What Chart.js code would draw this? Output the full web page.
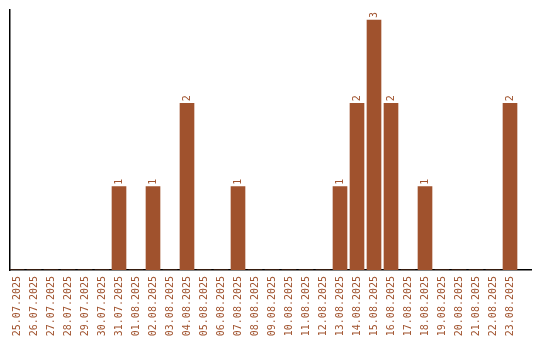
<!DOCTYPE html>
<html lang="en">
<head>
    <meta charset="UTF-8">
    <title>Daily count</title>
    <style>
        html, body { margin: 0; padding: 0; background: #fff; }
        #wrap { width: 540px; height: 340px; }
    </style>
</head>
<body>
    <div id="wrap"><canvas id="myChart" width="540" height="340"></canvas></div>

    <script src="https://cdn.jsdelivr.net/npm/chart.js@4.4.1/dist/chart.umd.min.js"></script>
    <script>
        // Days on the x axis
        var dates = [
            "25.07.2025", "26.07.2025", "27.07.2025", "28.07.2025", "29.07.2025", "30.07.2025",
            "31.07.2025", "01.08.2025", "02.08.2025", "03.08.2025", "04.08.2025", "05.08.2025",
            "06.08.2025", "07.08.2025", "08.08.2025", "09.08.2025", "10.08.2025", "11.08.2025",
            "12.08.2025", "13.08.2025", "14.08.2025", "15.08.2025", "16.08.2025", "17.08.2025",
            "18.08.2025", "19.08.2025", "20.08.2025", "21.08.2025", "22.08.2025", "23.08.2025"
        ];
        // Count per day
        var counts = [
            0, 0, 0, 0, 0, 0,
            1, 0, 1, 0, 2, 0,
            0, 1, 0, 0, 0, 0,
            0, 1, 2, 3, 2, 0,
            1, 0, 0, 0, 0, 2
        ];

        var brown = "#a0522d";

        // Build points for the linear x axis
        var points = [];
        for (var i = 0; i < dates.length; i++) {
            points.push({ x: i, y: counts[i] });
        }

        // Draws the value above each bar, rotated like the tick labels
        var valueLabels = {
            id: "valueLabels",
            afterDatasetsDraw: function (chart) {
                var ctx = chart.ctx;
                var meta = chart.getDatasetMeta(0);
                ctx.save();
                ctx.fillStyle = brown;
                ctx.font = "10px 'DejaVu Sans Mono', monospace";
                ctx.textAlign = "left";
                ctx.textBaseline = "middle";
                meta.data.forEach(function (bar, idx) {
                    var v = counts[idx];
                    if (!v) return;
                    ctx.save();
                    ctx.translate(bar.x, bar.y - 2);
                    ctx.rotate(-Math.PI / 2);
                    ctx.fillText(String(v), 0, 0);
                    ctx.restore();
                });
                ctx.restore();
            }
        };

        new Chart(document.getElementById("myChart"), {
            type: "bar",
            data: {
                datasets: [{
                    data: points,
                    backgroundColor: brown,
                    borderWidth: 0,
                    barThickness: 14
                }]
            },
            options: {
                responsive: false,
                animation: false,
                layout: { padding: { left: 10, right: 9, top: 10, bottom: 0 } },
                plugins: {
                    legend: { display: false },
                    tooltip: { enabled: false }
                },
                scales: {
                    x: {
                        type: "linear",
                        offset: false,
                        bounds: "data",
                        min: -7 / 17,
                        max: -7 / 17 + 521 / 17,
                        grid: { display: false, drawTicks: false, offset: false },
                        border: { display: true, color: "#000", width: 1.5 },
                        // one tick per day
                        afterBuildTicks: function (scale) {
                            scale.ticks = dates.map(function (d, idx) { return { value: idx }; });
                        },
                        ticks: {
                            autoSkip: false,
                            maxRotation: 90,
                            minRotation: 90,
                            padding: 6,
                            color: brown,
                            font: { family: "'DejaVu Sans Mono', monospace", size: 10 },
                            callback: function (v) {
                                return dates[v] !== undefined ? dates[v] : "";
                            }
                        },
                        afterFit: function (scale) {
                            scale.height = 70;
                            scale.paddingLeft = 0;
                            scale.paddingRight = 0;
                        }
                    },
                    y: {
                        min: 0,
                        max: 3.12,
                        grid: { display: false, drawTicks: false },
                        border: { display: true, color: "#000", width: 1.5 },
                        ticks: { display: false },
                        afterFit: function (scale) { scale.width = 0; }
                    }
                }
            },
            plugins: [valueLabels]
        });
    </script>
</body>
</html>
